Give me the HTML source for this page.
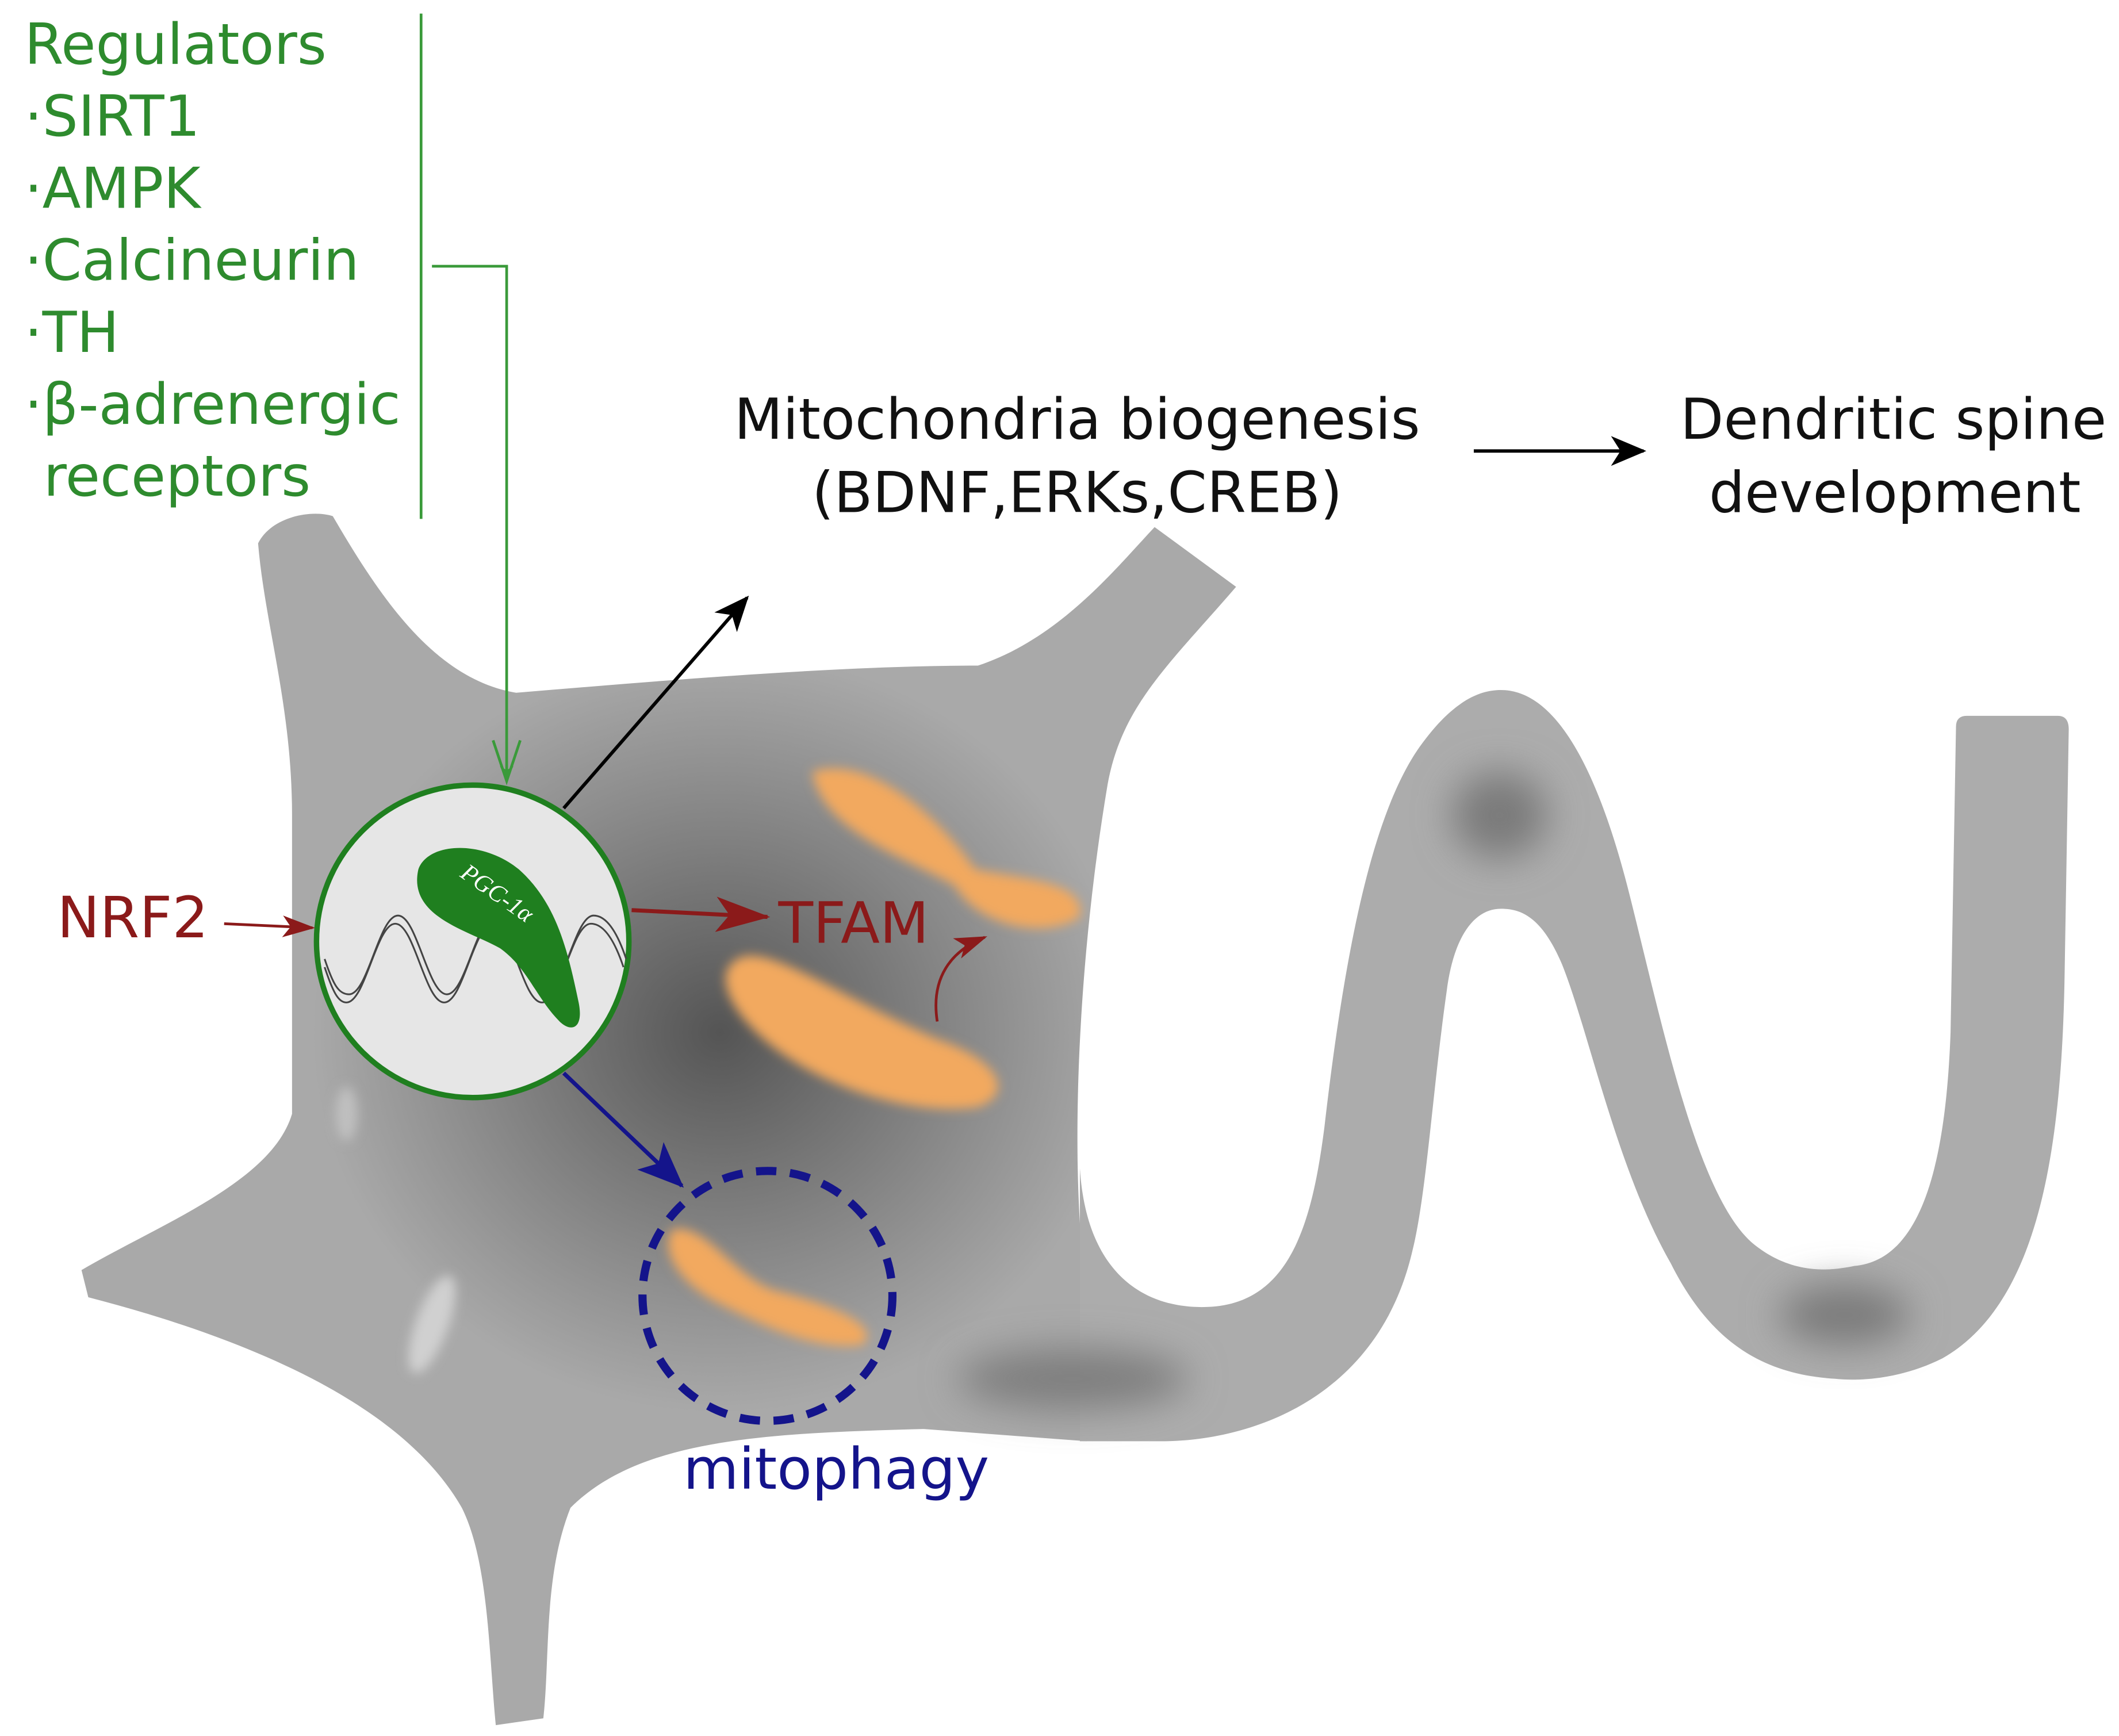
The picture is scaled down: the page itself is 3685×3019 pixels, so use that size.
<!DOCTYPE html>
<html><head><style>html,body{margin:0;padding:0;background:#fff}svg{display:block}</style></head>
<body>
<svg width="3685" height="3019" viewBox="0 0 1560 1278" preserveAspectRatio="none" xmlns="http://www.w3.org/2000/svg">
<defs>
<radialGradient id="dk" cx="0.5" cy="0.5" r="0.5"><stop offset="0" stop-color="#505050" stop-opacity="0.95"/><stop offset="1" stop-color="#555" stop-opacity="0"/></radialGradient>
<filter id="bl" x="-50%" y="-50%" width="200%" height="200%"><feGaussianBlur stdDeviation="4"/></filter>
<filter id="bl2" x="-100%" y="-100%" width="300%" height="300%"><feGaussianBlur stdDeviation="14"/></filter>
<marker id="ag" markerWidth="10" markerHeight="10" refX="8" refY="5" orient="auto" markerUnits="userSpaceOnUse"><path d="M0,0 L10,5 L0,10 L3,5Z" fill="#3a9a3a"/></marker>
<marker id="ak" markerWidth="26" markerHeight="22" refX="24" refY="11" orient="auto" markerUnits="userSpaceOnUse"><path d="M0,0 L26,11 L0,22 L7,11Z" fill="#000"/></marker>
<marker id="ar" markerWidth="40" markerHeight="26" refX="38" refY="13" orient="auto" markerUnits="userSpaceOnUse"><path d="M0,0 L40,13 L0,26 L10,13Z" fill="#8b1a1a"/></marker>
<marker id="ar2" markerWidth="24" markerHeight="16" refX="22" refY="8" orient="auto" markerUnits="userSpaceOnUse"><path d="M0,0 L24,8 L0,16 L6,8Z" fill="#8b1a1a"/></marker>
<marker id="ab" markerWidth="34" markerHeight="28" refX="32" refY="14" orient="auto" markerUnits="userSpaceOnUse"><path d="M0,0 L34,14 L0,28 L8,14Z" fill="#14148b"/></marker>
<clipPath id="cl"><path id="body" d="M190,400 C200,380 230,375 245,380 C280,440 320,500 380,510 C500,500 620,490 720,490 C780,470 820,420 850,388 L910,432 C860,490 825,520 815,580 C795,700 790,820 795,900 L800,1061 L680,1052 C560,1055 470,1060 420,1110 C400,1160 405,1220 400,1265 L365,1270 C360,1220 360,1150 340,1110 C300,1040 200,990 65,955 L60,935 C120,900 200,870 215,820 L215,600 C215,520 195,460 190,400 Z"/></clipPath>
</defs>
<use href="#body" fill="#a9a9a9"/>
<path d="M795,860 C800,940 845,965 892,962 C950,958 966,900 975,830 C990,700 1010,600 1045,550 C1070,515 1090,508 1105,508 C1150,508 1180,580 1200,660 C1225,760 1250,880 1290,915 C1320,940 1350,935 1365,932 C1410,928 1432,870 1436,760 L1440,535 Q1440,527 1448,527 L1515,527 Q1523,527 1523,537 L1520,715 C1518,850 1500,960 1430,1000 C1400,1015 1370,1017 1351,1015 C1300,1012 1260,990 1230,930 C1190,860 1170,760 1150,710 C1135,675 1120,669 1105,669 C1085,669 1070,690 1065,730 C1055,800 1050,880 1040,920 C1015,1030 920,1061 855,1061 L795,1061 Z" fill="#acacac"/>
<g clip-path="url(#cl)"><ellipse cx="530" cy="760" rx="300" ry="280" fill="url(#dk)"/></g>
<ellipse cx="1104" cy="600" rx="35" ry="32" fill="#7a7a7a" filter="url(#bl2)"/>
<ellipse cx="1358" cy="968" rx="48" ry="22" fill="#7a7a7a" filter="url(#bl2)"/>
<ellipse cx="790" cy="1015" rx="85" ry="22" fill="#7e7e7e" filter="url(#bl2)"/>
<ellipse cx="318" cy="975" rx="12" ry="38" fill="#d0d0d0" filter="url(#bl)" transform="rotate(20 318 975)"/>
<ellipse cx="255" cy="820" rx="8" ry="20" fill="#c0c0c0" filter="url(#bl)"/>
<!-- mitochondria -->
<g fill="#f2a95e" filter="url(#bl)">
<path d="M598,568 C640,555 690,600 718,640 C760,648 800,650 795,675 C770,692 720,682 703,652 C668,632 605,612 598,568Z"/>
<path d="M540,708 C560,690 610,730 690,765 C735,780 748,805 720,815 C670,822 610,800 575,775 C540,750 525,720 540,708Z"/>
<path d="M495,905 C520,900 540,940 570,950 C610,960 650,975 635,990 C600,995 560,975 530,960 C500,945 485,920 495,905Z"/>
</g>
<!-- regulators -->
<g font-family="DejaVu Sans, Liberation Sans, sans-serif" font-size="41.5" fill="#2e8b2e">
<text x="18" y="47">Regulators</text>
<text x="18" y="100">·SIRT1</text>
<text x="18" y="153">·AMPK</text>
<text x="18" y="206">·Calcineurin</text>
<text x="18" y="259">·TH</text>
<text x="18" y="312">·β-adrenergic</text>
<text x="32" y="365">receptors</text>
</g>
<line x1="310" y1="10" x2="310" y2="382" stroke="#3a9a3a" stroke-width="2"/>
<path d="M318,196 L373,196 L373,572" fill="none" stroke="#3a9a3a" stroke-width="2" marker-end="url(#ag)"/>
<path d="M363,545 L373,575 L383,545" fill="none" stroke="#3a9a3a" stroke-width="2"/>
<!-- black -->
<g font-family="DejaVu Sans, Liberation Sans, sans-serif" font-size="41.5" fill="#111">
<text x="793" y="323" text-anchor="middle">Mitochondria biogenesis</text>
<text x="793" y="377" text-anchor="middle">(BDNF,ERKs,CREB)</text>
<text x="1237" y="323">Dendritic spine</text>
<text x="1395" y="377" text-anchor="middle">development</text>
</g>
<line x1="1085" y1="332" x2="1210" y2="332" stroke="#000" stroke-width="2.5" marker-end="url(#ak)"/>
<line x1="415" y1="595" x2="550" y2="440" stroke="#000" stroke-width="2.5" marker-end="url(#ak)"/>
<!-- PGC circle -->
<circle cx="348" cy="693" r="115" fill="#e6e6e6" stroke="#1f7f1f" stroke-width="4"/>
<g fill="none" stroke="#444" stroke-width="1.3">
<path d="M239,712 C245,730 249,738 255,738 C269,738 277,680 291,680 C305,680 313,738 327,738 C341,738 349,680 363,680 C377,680 385,738 399,738 C413,738 421,680 435,680 C447,680 455,700 459,712"/>
<path d="M239,706 C245,724 249,732 257,732 C271,732 279,674 293,674 C307,674 315,732 329,732 C343,732 351,674 365,674 C379,674 387,732 401,732 C415,732 423,674 437,674 C449,674 457,694 461,706"/>
</g>
<path d="M308,640 C315,620 355,618 382,640 C410,665 418,700 426,738 C430,758 420,760 412,752 C395,735 388,712 368,698 C345,685 300,675 308,640Z" fill="#1f7f1f"/>
<text x="0" y="0" font-family="Liberation Serif, serif" font-style="italic" font-size="18" fill="#fff" transform="translate(338,645) rotate(35)">PGC-1α</text>
<!-- NRF2 / TFAM -->
<g font-family="DejaVu Sans, Liberation Sans, sans-serif" font-size="42" fill="#8b1a1a">
<text x="42" y="690">NRF2</text>
<text x="573" y="694">TFAM</text>
</g>
<line x1="165" y1="680" x2="230" y2="683" stroke="#8b1a1a" stroke-width="2" marker-end="url(#ar2)"/>
<line x1="465" y1="670" x2="565" y2="675" stroke="#8b1a1a" stroke-width="3" marker-end="url(#ar)"/>
<path d="M690,752 C685,720 700,700 725,690" fill="none" stroke="#8b1a1a" stroke-width="2" marker-end="url(#ar2)"/>
<!-- mitophagy -->
<line x1="415" y1="790" x2="502" y2="873" stroke="#14148b" stroke-width="3" marker-end="url(#ab)"/>
<circle cx="565" cy="954" r="92" fill="none" stroke="#14148b" stroke-width="6" stroke-dasharray="15 10"/>
<text x="503" y="1096" font-family="DejaVu Sans, Liberation Sans, sans-serif" font-size="42" fill="#14148b">mitophagy</text>
</svg>
</body></html>
